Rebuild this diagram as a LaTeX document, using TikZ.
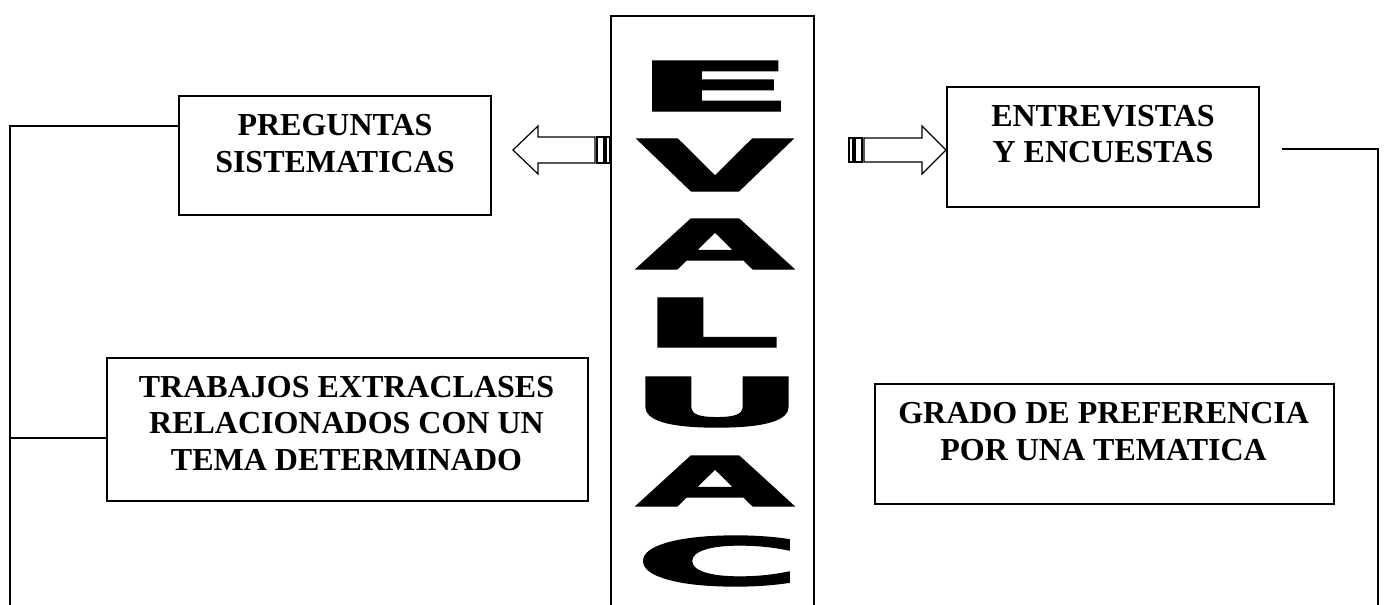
\documentclass[tikz,border=0pt]{standalone}
\usepackage{fontspec}
\usepackage{graphicx}
\setmainfont{Liberation Serif}
\newfontfamily\heavyfont{DejaVu Sans}[BoldFeatures={FakeBold=2}]
\newcommand\trimglyph[1]{\kern-\XeTeXglyphbounds 1 \XeTeXcharglyph`#1\relax #1\kern-\XeTeXglyphbounds 3 \XeTeXcharglyph`#1\relax}
\newcommand\inkletter[3]{\resizebox*{#1pt}{#2pt}{\trimglyph{#3}}}
\begin{document}
\begin{tikzpicture}[x=1pt,y=-1pt,
  tbox/.style={draw, line width=2pt, inner sep=0pt, anchor=north west},
  txt/.style={inner sep=0pt, align=center, font=\fontsize{32}{36.8}\selectfont\bfseries},
  evlet/.style={inner sep=0pt, font=\heavyfont\bfseries},
  conn/.style={line width=2pt},
  sarrow/.style={draw, line width=1.2pt, fill=white, line join=miter}]
\useasboundingbox (0,0) rectangle (1385,605);

% central box
\node[tbox, minimum width=203pt, minimum height=600pt] (eva) at (610,15) {};

% letters
\node[evlet] (e1) at (716.5,86)  {\inkletter{124}{50}{E}};
\node[evlet] (v1) at (715,165)   {\inkletter{153}{52}{V}};
\node[evlet] (a1) at (715,244)   {\inkletter{155}{50}{A}};
\node[evlet] (l1) at (717,322.5) {\inkletter{115}{49}{L}};
\node[evlet] (u1) at (717,402)   {\inkletter{139}{50}{U}};
\node[evlet] (a2) at (715,481)   {\inkletter{155}{50}{A}};
\node[evlet] (c1) at (716.5,561) {\inkletter{142}{50}{C}};

% boxes
\node[tbox, minimum width=312pt, minimum height=119pt] (preg) at (178,95) {};
\node[tbox, minimum width=312pt, minimum height=120pt] (entr) at (946,86) {};
\node[tbox, minimum width=481pt, minimum height=143pt] (trab) at (106,357) {};
\node[tbox, minimum width=459pt, minimum height=120pt] (grad) at (874,383) {};

% texts
\node[txt] (pregt) at (335,143.5) {PREGUNTAS\\SISTEMATICAS};
\node[txt] (entrt) at (1103,134) {ENTREVISTAS\\Y ENCUESTAS};
\node[txt] (trabt) at (346.5,423.5) {TRABAJOS EXTRACLASES\\RELACIONADOS CON UN\\TEMA DETERMINADO};
\node[txt] (gradt) at (1103.6,431.5) {GRADO DE PREFERENCIA\\POR UNA TEMATICA};

% striped arrows
\coordinate (la) at (513,150);
\coordinate (ra) at (946,150);
\path[sarrow] (595,137) -- (538,137) -- (538,126) -- (la) -- (538,174) -- (538,163) -- (595,163) -- cycle;
\path[sarrow] (597,137) rectangle (604,163);
\path[sarrow] (606,137) rectangle (610,163);
\path[sarrow] (864,138) -- (922,138) -- (922,126) -- (ra) -- (922,174) -- (922,162) -- (864,162) -- cycle;
\path[sarrow] (855,138) rectangle (862,162);
\path[sarrow] (849,138) rectangle (853,162);

% connectors
\coordinate (lt) at (10,126);
\coordinate (lm) at (10,438);
\coordinate (lb) at (10,615);
\coordinate (rs) at (1282,149);
\coordinate (rt) at (1378,149);
\coordinate (rb) at (1378,615);
\draw[conn] (preg.west |- lt) -- (lt) -- (lb);
\draw[conn] (lm) -- (trab.west |- lm);
\draw[conn] (rs) -- (rt) -- (rb);
\end{tikzpicture}
\end{document}
